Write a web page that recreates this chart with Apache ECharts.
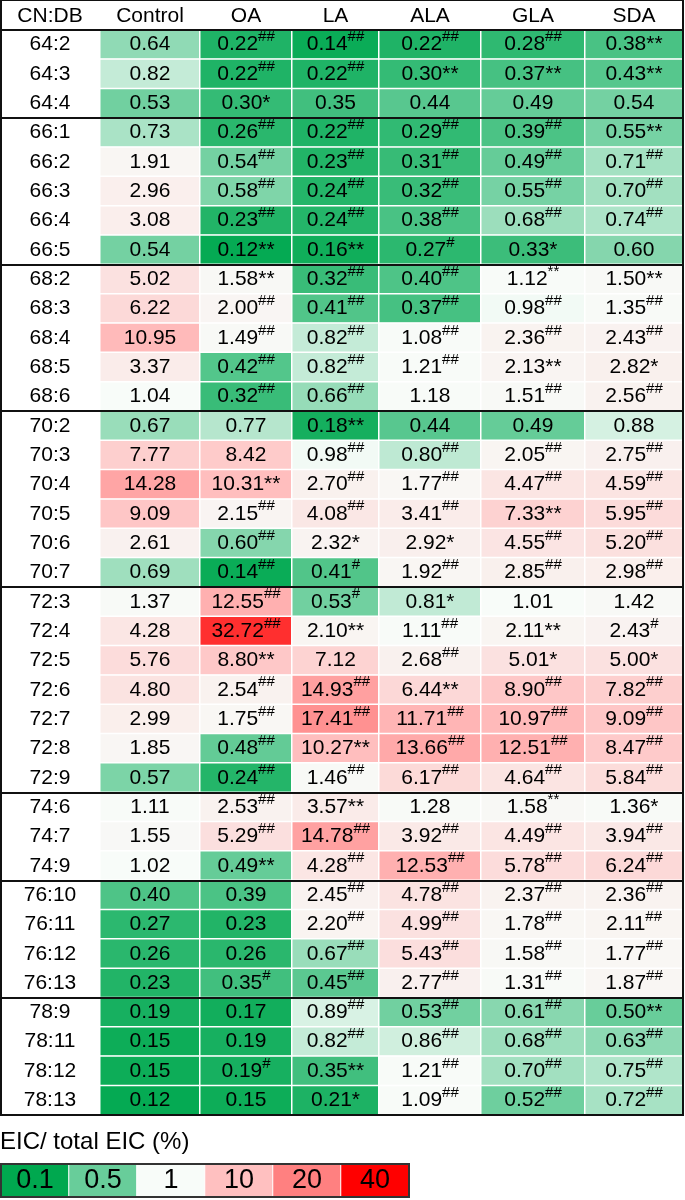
<!DOCTYPE html>
<html><head><meta charset="utf-8">
<script src="https://cdn.jsdelivr.net/npm/echarts@6/dist/echarts.min.js"></script>
<style>html,body{margin:0;padding:0;background:#fff}#c{width:685px;height:1200px}</style>
</head><body><div id="c"></div>
<script>
// ---------------- data ----------------
const rowHeader = 'CN:DB';
const rows = ['64:2','64:3','64:4','66:1','66:2','66:3','66:4','66:5','68:2','68:3','68:4','68:5','68:6',
  '70:2','70:3','70:4','70:5','70:6','70:7','72:3','72:4','72:5','72:6','72:7','72:8','72:9',
  '74:6','74:7','74:9','76:10','76:11','76:12','76:13','78:9','78:11','78:12','78:13'];
const columns = ['Control','OA','LA','ALA','GLA','SDA'];

const control = [0.64,0.82,0.53,0.73,1.91,2.96,3.08,0.54,5.02,6.22,10.95,3.37,1.04,
  0.67,7.77,14.28,9.09,2.61,0.69,1.37,4.28,5.76,4.80,2.99,1.85,0.57,
  1.11,1.55,1.02,0.40,0.27,0.26,0.23,0.19,0.15,0.15,0.12];
const controlSig = Array(37).fill('');

const oa = [0.22,0.22,0.30,0.26,0.54,0.58,0.23,0.12,1.58,2.00,1.49,0.42,0.32,
  0.77,8.42,10.31,2.15,0.60,0.14,12.55,32.72,8.80,2.54,1.75,0.48,0.24,
  2.53,5.29,0.49,0.39,0.23,0.26,0.35,0.17,0.19,0.19,0.15];
const oaSig = ['##','##','*','##','##','##','##','**','**','##','##','##','##',
  '','','**','##','##','##','##','##','**','##','##','##','##',
  '##','##','**','','','','#','','','#',''];

const la = [0.14,0.22,0.35,0.22,0.23,0.24,0.24,0.16,0.32,0.41,0.82,0.82,0.66,
  0.18,0.98,2.70,4.08,2.32,0.41,0.53,2.10,7.12,14.93,17.41,10.27,1.46,
  3.57,14.78,4.28,2.45,2.20,0.67,0.45,0.89,0.82,0.35,0.21];
const laSig = ['##','##','','##','##','##','##','**','##','##','##','##','##',
  '**','##','##','##','*','#','#','**','','##','##','**','##',
  '**','##','##','##','##','##','##','##','##','**','*'];

const ala = [0.22,0.30,0.44,0.29,0.31,0.32,0.38,0.27,0.40,0.37,1.08,1.21,1.18,
  0.44,0.80,1.77,3.41,2.92,1.92,0.81,1.11,2.68,6.44,11.71,13.66,6.17,
  1.28,3.92,12.53,4.78,4.99,5.43,2.77,0.53,0.86,1.21,1.09];
const alaSig = ['##','**','','##','##','##','##','#','##','##','##','##','',
  '','##','##','##','*','##','*','##','##','**','##','##','##',
  '','##','##','##','##','##','##','##','##','##','##'];

const gla = [0.28,0.37,0.49,0.39,0.49,0.55,0.68,0.33,1.12,0.98,2.36,2.13,1.51,
  0.49,2.05,4.47,7.33,4.55,2.85,1.01,2.11,5.01,8.90,10.97,12.51,4.64,
  1.58,4.49,5.78,2.37,1.78,1.58,1.31,0.61,0.68,0.70,0.52];
const glaSig = ['##','**','','##','##','##','##','*','^**','##','##','**','##',
  '','##','##','**','##','##','','**','*','##','##','##','##',
  '^**','##','##','##','##','##','##','##','##','##','##'];

const sda = [0.38,0.43,0.54,0.55,0.71,0.70,0.74,0.60,1.50,1.35,2.43,2.82,2.56,
  0.88,2.75,4.59,5.95,5.20,2.98,1.42,2.43,5.00,7.82,9.09,8.47,5.84,
  1.36,3.94,6.24,2.36,2.11,1.77,1.87,0.50,0.63,0.75,0.72];
const sdaSig = ['**','**','','**','##','##','##','','**','##','##','*','##',
  '','##','##','##','##','##','','#','*','##','##','##','##',
  '*','##','##','##','##','##','##','**','##','##','##'];

const legendTitle = 'EIC/ total EIC (%)';
const legendStops = [0.1, 0.5, 1, 10, 20, 40];
const legendLabels = ['0.1','0.5','1','10','20','40'];
const legendColors = ['#00a84f','#68cd9a','#f8fcf9','#ffc0c0','#ff8080','#ff0000'];

// ---------------- layout ----------------
const FONT = "'Liberation Sans', Arial, sans-serif";
const FS = 21;
const colLeft = [0, 100, 200, 292, 379, 481, 585];
const colWidth = [100, 100, 92, 87, 102, 104, 98];
const TOP = 30, H = 1085;

const values = [control, oa, la, ala, gla, sda];
const sigs = [controlSig, oaSig, laSig, alaSig, glaSig, sdaSig];

function colorPos(v) {
  if (v <= legendStops[0]) return 0;
  for (let i = 0; i < legendStops.length - 1; i++) {
    if (v <= legendStops[i + 1]) return i + (v - legendStops[i]) / (legendStops[i + 1] - legendStops[i]);
  }
  return legendStops.length - 1;
}
const isGroupStart = i => i > 0 && i < rows.length && rows[i].split(':')[0] !== rows[i - 1].split(':')[0];

function fmt(v, s) {
  const n = v.toFixed(2);
  if (s === '#' || s === '##') return '{v|' + n + '}{s|' + s + '}';
  if (s === '^**') return '{v|' + n + '}{s|**}';
  return '{v|' + n + s + '}';
}
const rich = {
  v: { fontSize: FS, lineHeight: 30, color: '#000', fontFamily: FONT },
  s: { fontSize: 15, lineHeight: 15, color: '#000', fontFamily: FONT, verticalAlign: 'top' }
};

const grid = [], xAxis = [], yAxis = [], series = [];
for (let g = 0; g < 7; g++) {
  grid.push({ left: colLeft[g], top: TOP, width: colWidth[g], height: H });
  xAxis.push({
    gridIndex: g, type: 'category', position: 'top', z: 10,
    data: [g === 0 ? rowHeader : columns[g - 1]],
    axisTick: { show: false },
    axisLine: { show: true, lineStyle: { color: '#111', width: 2 } },
    axisLabel: { margin: 14, verticalAlign: 'middle', fontSize: FS, color: '#000', fontFamily: FONT }
  });
  yAxis.push({
    gridIndex: g, type: 'category', inverse: true, data: rows, z: 10,
    axisLine: { show: false }, axisTick: { show: false },
    axisLabel: { show: g === 1, interval: 0, margin: 50, align: 'center', fontSize: FS, color: '#000', fontFamily: FONT },
    splitLine: { show: true, interval: (idx) => isGroupStart(idx), lineStyle: { color: '#111', width: 2 } }
  });
}
for (let c = 0; c < 6; c++) {
  series.push({
    type: 'heatmap', xAxisIndex: c + 1, yAxisIndex: c + 1,
    data: values[c].map((v, r) => [0, r, colorPos(v), v]),
    itemStyle: { borderColor: '#fff', borderWidth: 1.5 },
    label: { show: true, formatter: p => fmt(p.value[3], sigs[c][p.value[1]]), rich: rich },
    emphasis: { disabled: true }
  });
}
// legend bar
grid.push({ left: 1, top: 1164, width: 408, height: 33, show: true, borderColor: '#333', borderWidth: 2, z: 10 });
xAxis.push({ gridIndex: 7, type: 'category', data: legendLabels, show: false });
yAxis.push({ gridIndex: 7, type: 'category', data: [''], show: false });
series.push({
  type: 'heatmap', xAxisIndex: 7, yAxisIndex: 7,
  data: legendStops.map((s, i) => [i, 0, colorPos(s), s]),
  itemStyle: { borderColor: '#fff', borderWidth: 1 },
  label: { show: true, formatter: p => legendLabels[p.value[0]], fontSize: 27, color: '#000', fontFamily: FONT },
  emphasis: { disabled: true }
});
// table frame
grid.push({ left: 1, top: -2, width: 682, height: TOP + H + 2, show: true, borderColor: '#111', borderWidth: 2, z: 10 });
xAxis.push({ gridIndex: 8, type: 'value', show: false });
yAxis.push({ gridIndex: 8, type: 'value', show: false });

const chart = echarts.init(document.getElementById('c'), null, { renderer: 'canvas' });
chart.setOption({
  animation: false,
  backgroundColor: '#fff',
  title: { text: legendTitle, left: 0, top: 1130, padding: 0,
    textStyle: { fontSize: 24, fontWeight: 'normal', color: '#000', fontFamily: FONT } },
  grid, xAxis, yAxis, series,
  visualMap: { type: 'continuous', show: false, dimension: 2, min: 0, max: 5,
    seriesIndex: [0, 1, 2, 3, 4, 5, 6], inRange: { color: legendColors } }
});
</script></body></html>
